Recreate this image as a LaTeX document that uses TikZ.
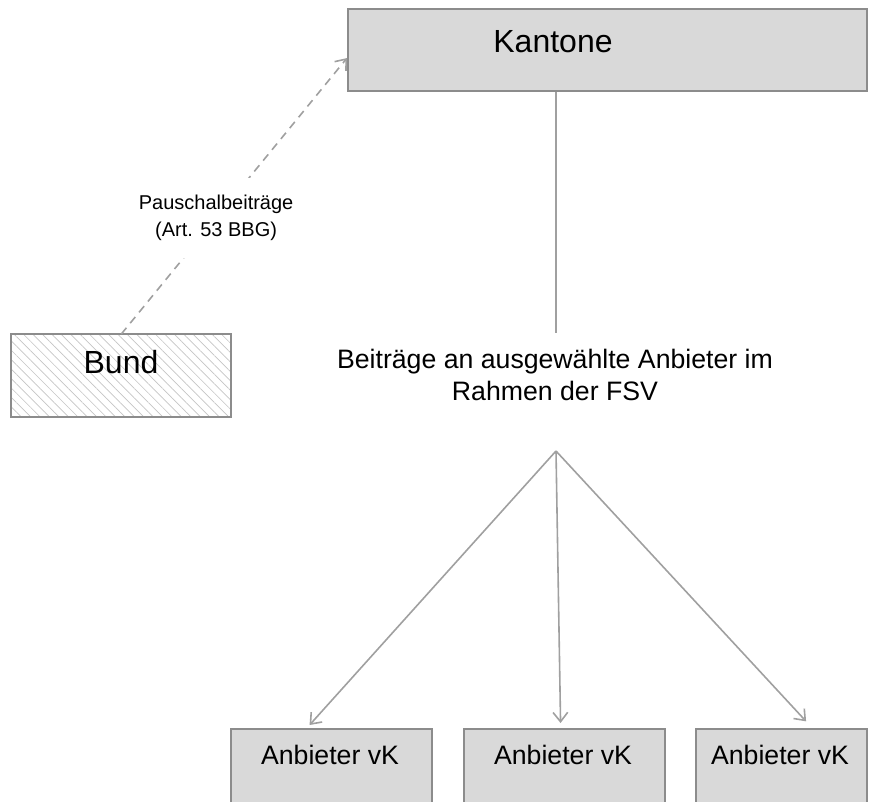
\documentclass[tikz,border=0pt]{standalone}
\usepackage{fontspec}
\setmainfont{Liberation Sans}
\usetikzlibrary{positioning,arrows.meta,patterns.meta}

\definecolor{boxfill}{HTML}{D9D9D9}
\definecolor{boxline}{HTML}{8C8C8C}
\definecolor{linkgray}{HTML}{A0A0A0}
\definecolor{hatchgray}{HTML}{C4C4C4}

\begin{document}
\begin{tikzpicture}[
    x=0.75pt, y=-0.75pt,
    box/.style={draw=boxline, line width=1.6pt, fill=boxfill, anchor=north west, inner sep=0pt},
    hatchbox/.style={box, fill=white, pattern={Lines[angle=-45,distance=5pt,line width=0.5pt]}, pattern color=hatchgray},
    boxtext/.style={inner sep=0pt, font=\fontsize{20}{24}\selectfont},
    link/.style={draw=linkgray, line width=1.2pt},
    tip/.style={-{Straight Barb[length=7pt,width=11pt]}}
]
    \useasboundingbox (0,0) rectangle (886,801);
    \clip (0,0) rectangle (886,801);

    % boxes
    \node[box, minimum width=389pt, minimum height=61.5pt] (kantone) at (347,8) {};
    \node[boxtext, font=\fontsize{24}{28}\selectfont] (kantonetext) at (553,42) {Kantone};

    \node[hatchbox, minimum width=165pt, minimum height=62pt] (bund) at (11,334) {};
    \node[boxtext, font=\fontsize{24}{28}\selectfont] (bundtext) at (121,362) {Bund};

    \node[box, minimum width=150.75pt, minimum height=60pt] (anb1) at (230,728) {};
    \node[box, minimum width=150.75pt, minimum height=60pt] (anb2) at (463,728) {};
    \node[box, minimum width=128.25pt, minimum height=60pt] (anb3) at (695,728) {};
    \node[boxtext] (anb1text) at (330,755) {Anbieter vK};
    \node[boxtext] (anb2text) at (563,755) {Anbieter vK};
    \node[boxtext] (anb3text) at (780,755) {Anbieter vK};

    % text in the middle
    \node[align=center, inner ysep=12pt, font=\fontsize{20}{24}\selectfont] (beitraege) at (555,375)
        {Beiträge an ausgewählte Anbieter im\\Rahmen der FSV};
    \coordinate (split) at (556,451);

    % connectors
    \draw[link] (kantone.south -| split) -- (beitraege.north -| split);
    \draw[link, tip] (split) -- ([xshift=-16.5pt, yshift=2.25pt]anb1.north);
    \draw[link, tip] (split) -- ([xshift=-3pt, yshift=3.75pt]anb2.north);
    \draw[link, tip] (split) -- ([xshift=18.4pt, yshift=5pt]anb3.north);
    \draw[link, tip, dash pattern=on 6pt off 4.5pt] (bund.north) --
        node[pos=0.42, fill=white, align=center, inner xsep=2pt, inner ysep=13pt,
             font=\fontsize{15}{20}\selectfont] (pauschal)
        {Pauschalbeiträge\\(Art. 53 BBG)} ([yshift=-6pt]kantone.west);
\end{tikzpicture}
\end{document}
